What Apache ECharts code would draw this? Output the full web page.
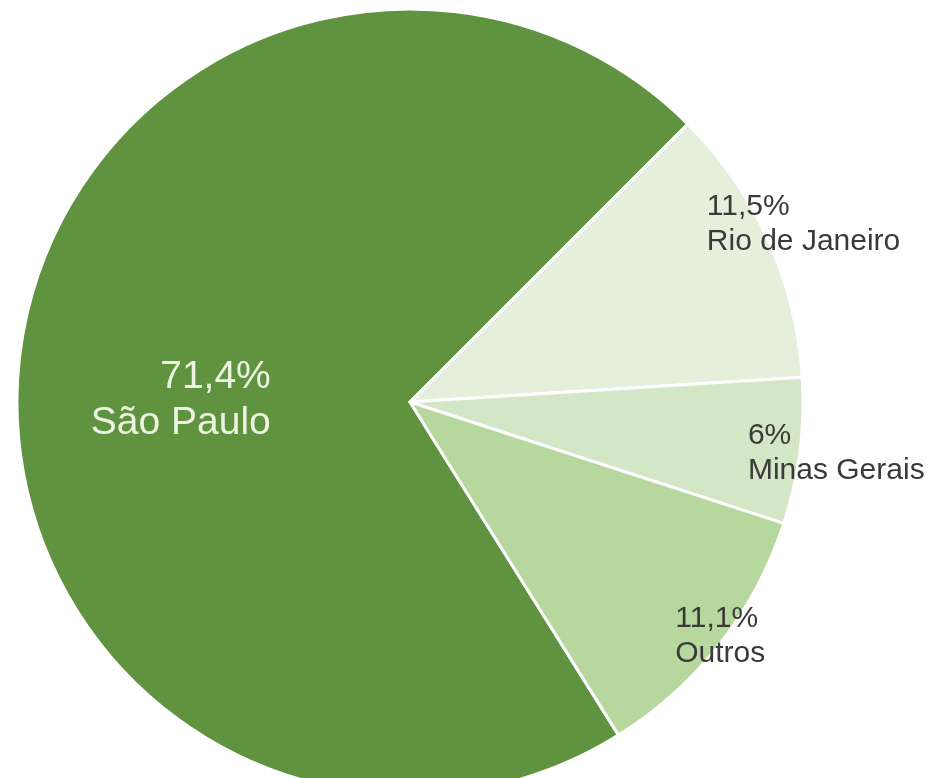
<!DOCTYPE html>
<html>
<head>
<meta charset="utf-8">
<script src="https://cdn.jsdelivr.net/npm/echarts@6/dist/echarts.min.js"></script>
<style>
html,body{margin:0;padding:0;background:#ffffff;}
#chart{width:930px;height:778px;}
</style>
</head>
<body>
<div id="chart"></div>
<script>
const categories = ['São Paulo', 'Rio de Janeiro', 'Minas Gerais', 'Outros'];
const values = [71.4, 11.5, 6, 11.1];
const colors = ['#60933f', '#e5f0dc', '#d3e6c5', '#b6d79d'];
const labelColors = ['#eef4e2', '#3a3a3a', '#3a3a3a', '#3a3a3a'];
const labelSizes = [39, 30, 30, 30];
const labelLineHeights = [46, 35, 35, 35];
// label nudges (px) from the default inside position, and alignment
const labelShift = [[59, 21], [115, -96], [140, 26], [108, 111]];
const labelAlign = ['right', 'left', 'left', 'left'];

const chart = echarts.init(document.getElementById('chart'), null, {renderer: 'canvas'});
const data = categories.map((name, i) => ({
  name: name,
  value: values[i],
  itemStyle: {color: colors[i]},
  label: {
    color: labelColors[i],
    fontSize: labelSizes[i],
    lineHeight: labelLineHeights[i]
  }
}));

chart.setOption({
  animation: false,
  series: [{
    type: 'pie',
    center: [410, 402],
    radius: [0, 393],
    startAngle: 302.04,
    clockwise: true,
    avoidLabelOverlap: false,
    itemStyle: {borderColor: '#ffffff', borderWidth: 3},
    label: {
      show: true,
      position: 'inside',
      fontFamily: 'Liberation Sans, Arial, sans-serif',
      formatter: p => String(p.value).replace('.', ',') + '%\n' + p.name
    },
    labelLine: {show: false},
    labelLayout: function (params) {
      const i = params.dataIndex;
      return {
        dx: labelShift[i][0],
        dy: labelShift[i][1],
        align: labelAlign[i],
        verticalAlign: 'middle'
      };
    },
    data: data
  }]
});
</script>
</body>
</html>
